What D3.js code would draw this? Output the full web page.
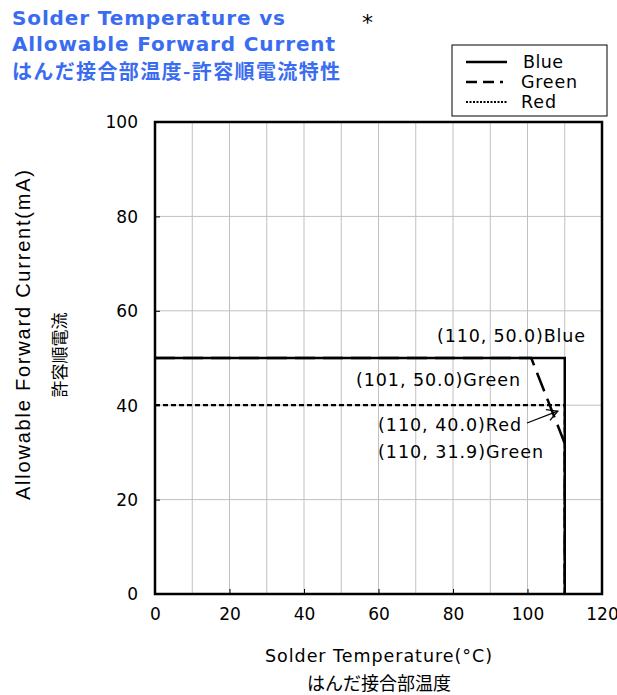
<!DOCTYPE html>
<html><head><meta charset="utf-8">
<script src="https://cdn.jsdelivr.net/npm/d3@7"></script>
<style>body{margin:0;background:#fff}svg{display:block}</style>
</head><body>
<script>
const xTicks = [0,20,40,60,80,100,120];
const yTicks = [0,20,40,60,80,100];
const xGrid = [10,20,30,40,50,60,70,80,90,100,110];
const yGrid = [20,40,60,80];
const blueX = [0,110,110], blueY = [50,50,0];
const greenX = [0,101,110,110], greenY = [50,50,31.9,0];
const redX = [0,110,110], redY = [40,40,0];
const seriesNames = ["Blue","Green","Red"];
const annotations = [
  {text:"(110, 50.0)Blue", x:110, y:50},
  {text:"(101, 50.0)Green", x:101, y:50},
  {text:"(110, 40.0)Red", x:110, y:40},
  {text:"(110, 31.9)Green", x:110, y:31.9}
];

const W=617,H=695;
const svg=d3.select("body").append("svg").attr("width",W).attr("height",H);
const L=155,R=602,T=122,B=594;
const x=d3.scaleLinear().domain([0,120]).range([L,R]);
const y=d3.scaleLinear().domain([0,100]).range([B,T]);
const font="DejaVu Sans, Verdana, sans-serif";

// title
const blue="#3a6cf2";
svg.append("text").attr("x",12).attr("y",25).text("Solder Temperature vs")
  .attr("font-family",font).attr("font-weight","bold").attr("font-size",20).attr("fill",blue)
  .attr("textLength",273).attr("lengthAdjust","spacing");
svg.append("text").attr("x",12).attr("y",51).text("Allowable Forward Current")
  .attr("font-family",font).attr("font-weight","bold").attr("font-size",20).attr("fill",blue)
  .attr("textLength",323).attr("lengthAdjust","spacing");
svg.append("text").attr("x",12).attr("y",79).text("はんだ接合部温度-許容順電流特性")
  .attr("font-family","Noto Sans CJK JP").attr("font-weight","bold").attr("font-size",20).attr("fill",blue)
  .attr("textLength",328).attr("lengthAdjust","spacing");
svg.append("text").attr("x",362).attr("y",30).text("*").attr("font-family",font).attr("font-size",22).attr("fill","#000");

// grid
const g=svg.append("g");
g.selectAll(".vg").data(xGrid).enter().append("line")
  .attr("x1",d=>x(d)).attr("x2",d=>x(d)).attr("y1",T).attr("y2",B)
  .attr("stroke","#c0c0c0").attr("stroke-width",1);
g.selectAll(".hg").data(yGrid).enter().append("line")
  .attr("x1",L).attr("x2",R).attr("y1",d=>y(d)).attr("y2",d=>y(d))
  .attr("stroke","#c0c0c0").attr("stroke-width",1);

// axes
const xAxis=d3.axisBottom(x).tickValues(xTicks).tickSize(-5).tickPadding(14);
const yAxis=d3.axisLeft(y).tickValues(yTicks).tickSize(-5).tickPadding(17);
const xa=svg.append("g").attr("transform",`translate(0,${B})`).call(xAxis);
const ya=svg.append("g").attr("transform",`translate(${L},0)`).call(yAxis);
[xa,ya].forEach(a=>{
  a.select(".domain").remove();
  a.selectAll("line").attr("stroke","#000");
  a.selectAll("text").attr("font-family",font).attr("font-size",17).attr("fill","#000");
});
ya.selectAll("text").attr("dy","0.35em");

// series
const line=d3.line();
function pts(xs,ys){return xs.map((v,i)=>[x(v),y(ys[i])]);}
svg.append("path").attr("d",line(pts(redX,redY))).attr("fill","none")
  .attr("stroke","#000").attr("stroke-width",2.2).attr("stroke-dasharray","5,3");
svg.append("path").attr("d",line(pts(blueX,blueY))).attr("fill","none")
  .attr("stroke","#000").attr("stroke-width",2.5);
svg.append("path").attr("d",line(pts(greenX,greenY))).attr("fill","none")
  .attr("stroke","#000").attr("stroke-width",2.5).attr("stroke-dasharray","20,8");

// frame
svg.append("rect").attr("x",L).attr("y",T).attr("width",R-L).attr("height",B-T)
  .attr("fill","none").attr("stroke","#000").attr("stroke-width",2.5);

// annotations
const annPos=[[437,342,148],[356,386,164],[378,431,143],[378,458,165]];
annotations.forEach((a,i)=>{
  svg.append("text").attr("x",annPos[i][0]).attr("y",annPos[i][1]).text(a.text)
    .attr("font-family",font).attr("font-size",17.5).attr("fill","#000")
    .attr("textLength",annPos[i][2]).attr("lengthAdjust","spacing");
});
// arrow for Red
svg.append("line").attr("x1",527).attr("y1",423).attr("x2",x(110)-7).attr("y2",y(40)+6)
  .attr("stroke","#000").attr("stroke-width",1.3);
{
  const ax=x(110)-7, ay=y(40)+6, ang=Math.atan2(ay-423, ax-527);
  const s=12, w=0.5;
  const p1=[ax-s*Math.cos(ang-w), ay-s*Math.sin(ang-w)];
  const p2=[ax-s*Math.cos(ang+w), ay-s*Math.sin(ang+w)];
  svg.append("path").attr("d",`M${p1}L${ax},${ay}L${p2}`).attr("fill","none")
    .attr("stroke","#000").attr("stroke-width",1.3);
}

// legend
svg.append("rect").attr("x",452).attr("y",45).attr("width",155).attr("height",71)
  .attr("fill","#fff").attr("stroke","#000").attr("stroke-width",1);
const legDash=[null,"11,6,11,6,3,20","2,1.5"];
const legW=[2.5,2.5,2];
const legTW=[40,56,35];
seriesNames.forEach((n,i)=>{
  const ly=62+i*20;
  svg.append("line").attr("x1",466).attr("x2",507).attr("y1",ly).attr("y2",ly)
    .attr("stroke","#000").attr("stroke-width",legW[i]).attr("stroke-dasharray",legDash[i]);
  svg.append("text").attr("x",i===0?523:521).attr("y",ly+6).text(n)
    .attr("font-family",font).attr("font-size",17.5).attr("fill","#000")
    .attr("textLength",legTW[i]).attr("lengthAdjust","spacing");
});

// axis titles
svg.append("text").attr("x",265).attr("y",662)
  .text("Solder Temperature(°C)").attr("font-family",font).attr("font-size",17.5)
  .attr("textLength",227).attr("lengthAdjust","spacing");
svg.append("text").attr("x",379).attr("y",690).attr("text-anchor","middle")
  .text("はんだ接合部温度").attr("font-family","Noto Sans CJK JP").attr("font-size",18);
svg.append("text").attr("transform","translate(30,500) rotate(-90)")
  .text("Allowable Forward Current(mA)").attr("font-family","Liberation Sans, Arial, sans-serif").attr("font-size",20)
  .attr("textLength",330).attr("lengthAdjust","spacing");
svg.append("text").attr("transform","translate(66,355) rotate(-90)").attr("text-anchor","middle")
  .text("許容順電流").attr("font-family","Noto Sans CJK JP").attr("font-size",17);
</script>
</body></html>
